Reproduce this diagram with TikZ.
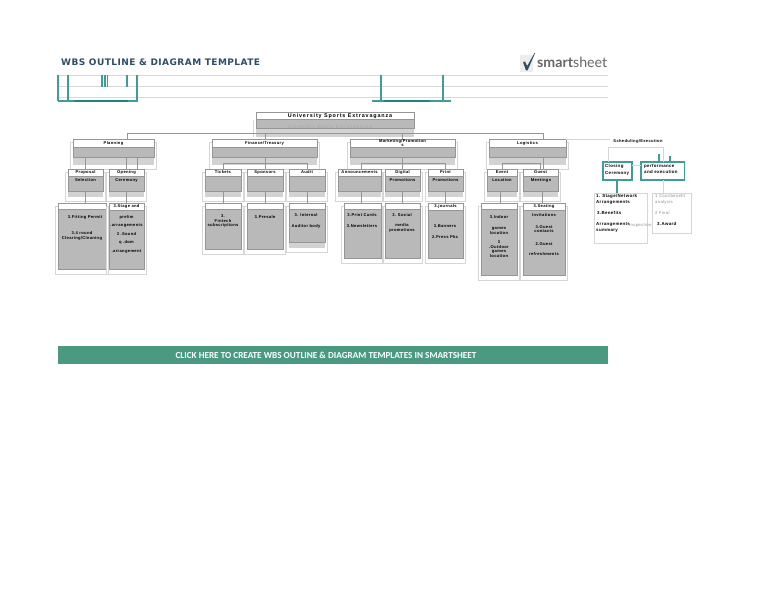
\documentclass[tikz,border=0pt]{standalone}
\usepackage{fontspec}
\setmainfont{Liberation Sans}
\newfontfamily\titlefont[LetterSpace=5]{DejaVu Sans}
\newfontfamily\bannerfont{Carlito}
\newfontfamily\logofont{Lato}
\newfontfamily\lblfont[LetterSpace=8]{Liberation Sans}
\newfontfamily\rootfont[LetterSpace=16]{Liberation Sans}
\definecolor{wbsgray}{HTML}{B9B9B9}
\definecolor{wbsedge}{HTML}{969696}
\definecolor{wbslight}{HTML}{D2D2D2}
\definecolor{wbsframe}{HTML}{D6D6D6}
\definecolor{wbsteal}{HTML}{3F9C98}
\definecolor{wbstealdk}{HTML}{1F8580}
\definecolor{wbsgreen}{HTML}{4A9A82}
\definecolor{wbsnavy}{HTML}{2E4E66}
\tikzset{
  x=1pt,y=-1pt,
  boxbase/.style={anchor=north west,inner sep=0pt,outer sep=0pt},
  frameb/.style={boxbase,draw=wbsframe,line width=.7pt},
  lightb/.style={boxbase,fill=wbslight},
  grayb/.style={boxbase,fill=wbsgray,draw=wbsedge,line width=.8pt},
  headb/.style={boxbase,fill=white,draw=wbsedge,line width=.7pt},
  lbl/.style={inner sep=0pt,align=center,font=\lblfont\bfseries\fontsize{4.1}{7}\selectfont,text=black},
  schedl/.style={inner sep=0pt,anchor=north west,align=left,font=\lblfont\bfseries\fontsize{4.4}{6.2}\selectfont,text=black},
  faint/.style={inner sep=0pt,align=left,anchor=north west,font=\lblfont\fontsize{4.2}{6.2}\selectfont,text=black!45},
  conn/.style={draw=wbsedge,line width=.9pt},
  lightconn/.style={draw=wbsframe,line width=.7pt},
  tealconn/.style={draw=wbsteal,line width=1.1pt},
  tealbox/.style={boxbase,draw=wbsteal,line width=1.1pt,fill=white},
  paleb/.style={boxbase,draw=wbsframe,line width=.5pt,fill=white},
  rule/.style={draw=black!15,line width=.5pt},
}
% name x1 y1 x2 y2(header bottom) y3(gray bottom) y4(light bottom) header
\newcommand{\wbsbox}[8]{%
  \node[lightb,minimum width={(#4-#2)*1pt},minimum height={(#7-#3)*1pt}] (#1L) at (#2,#3) {};
  \node[frameb,minimum width={(#4-#2+5)*1pt},minimum height={(#7-#3+1)*1pt}] (#1F) at (#2-2.5,#3+3) {};
  \node[grayb,minimum width={(#4-#2)*1pt},minimum height={(#6-#5)*1pt}] (#1G) at (#2,#5) {};
  \node[headb,minimum width={(#4-#2)*1pt},minimum height={(#5-#3)*1pt},lbl] (#1) at (#2,#3) {#8};
}
\newcommand{\lab}[4]{\node[lbl] (#1) at (#2,#3) {#4};}
% teal fragments as thin filled strips: x, y1, y2
\newcommand{\tealv}[3]{\fill[wbsteal] (#1-.6,#2) rectangle (#1+.6,#3);}
\begin{document}
\begin{tikzpicture}
\useasboundingbox (0,0) rectangle (768,594);
\fill[white] (0,0) rectangle (768,594);

% title and logo
\node[anchor=west,inner sep=0pt,text=wbsnavy,font=\titlefont\bfseries\fontsize{9}{10}\selectfont] (title) at (61,62) {WBS OUTLINE \& DIAGRAM TEMPLATE};
\node[boxbase,fill=black!7,minimum width=13pt,minimum height=17pt] (logobox) at (520,55) {};
\fill[wbsnavy] (523,62) -- (525,61.5) -- (527.2,66) -- (534.5,53) -- (535,53.3) -- (527.5,70.5) -- (526,70.5) -- cycle;
\node[anchor=west,inner sep=0pt,text=black!60,font=\logofont\fontsize{14.2}{16}\selectfont] (logo) at (537,62) {\textbf{smart}sheet};

% sheet rules
\coordinate (r1a) at (58,75); \coordinate (r1b) at (608,75);
\coordinate (r2a) at (58,86); \coordinate (r2b) at (608,86);
\coordinate (r3a) at (58,97.5); \coordinate (r3b) at (608,97.5);
\draw[rule] (r1a)--(r1b) (r2a)--(r2b) (r3a)--(r3b);
% teal fragments
\tealv{58}{75}{101}\tealv{68}{75}{101}\tealv{137}{75}{101}
\tealv{102}{75}{87}\tealv{105}{75}{87}\tealv{107.5}{75}{87}\tealv{127}{75}{87}
\tealv{381}{75}{101}\tealv{443}{75}{101}
\fill[wbsteal] (58,100.4) rectangle (137.6,101.6);
\fill[wbstealdk] (74,100.2) rectangle (128,101.8);
\fill[wbsteal] (372,100.4) rectangle (451,101.6);
\fill[wbstealdk] (384,100.2) rectangle (430,101.8);

% root
\node[lightb,minimum width=158pt,minimum height=25pt] (rootL) at (256,112) {};
\node[grayb,minimum width=158pt,minimum height=9pt] (rootG) at (256,119) {};
\node[headb,minimum width=158pt,minimum height=7.5pt] (root) at (256,112) {};
\node[inner sep=0pt,font=\rootfont\bfseries\fontsize{5.4}{7}\selectfont] (roottext) at (340,115.7) {University Sports Extravaganza};
\node[inner sep=0pt,text=black!35,font=\rootfont\fontsize{4.6}{7}\selectfont] (rootsub) at (330,127) {University Sports Extravaganza};

% level 1
\wbsbox{plan}{73}{139}{154}{147}{157}{165}{Planning}
\wbsbox{fin}{212}{139}{317}{147}{157}{165}{Finance/Treasury}
\wbsbox{mkt}{350}{139}{455}{147}{157}{165}{Marketing/Promotion\\[-3.2pt]s}
\wbsbox{log}{489}{139}{566}{147}{157}{165}{Logistics}

% level 2
\wbsbox{prop}{68}{169}{103}{176}{191}{197}{Proposal}
\wbsbox{open}{109}{169}{144}{176}{191}{197}{Opening}
\wbsbox{tick}{205}{169}{241}{176}{191}{197}{Tickets}
\wbsbox{spon}{247}{169}{283}{176}{191}{197}{Sponsors}
\wbsbox{audi}{289}{169}{325}{176}{191}{197}{Audit}
\wbsbox{ann}{338}{169}{381}{176}{191}{197}{Announcements}
\wbsbox{digi}{385}{169}{420}{176}{191}{197}{Digital}
\wbsbox{prnt}{428}{169}{463}{176}{191}{197}{Print}
\wbsbox{evnt}{487}{169}{517}{176}{191}{197}{Event}
\wbsbox{gues}{523}{169}{558}{176}{191}{197}{Guest}

% level 3
\wbsbox{propc}{58}{203}{106}{209}{269}{270}{}
\wbsbox{openc}{109}{203}{144}{210}{269}{270}{3.Stage and}
\wbsbox{tickc}{205}{203}{241}{209}{249}{250}{}
\wbsbox{sponc}{247}{203}{283}{209}{249}{250}{}
\wbsbox{audic}{289}{203}{325}{209}{242}{248}{}
\wbsbox{annc}{344}{203}{381}{209}{258}{259}{}
\wbsbox{digic}{385}{203}{420}{209}{258}{259}{}
\wbsbox{prntc}{428}{203}{463}{210}{258}{259}{3.journals}
\wbsbox{evntc}{481}{203}{517}{209}{275}{276}{}
\wbsbox{guesc}{523}{203}{565}{210}{275}{276}{3.Seating}

% level 2 subtitles
\lab{t01}{85.5}{180}{Selection}
\lab{t02}{126.5}{180}{Ceremony}
\lab{t03}{402.5}{180}{Promotions}
\lab{t04}{445.5}{180}{Promotions}
\lab{t05}{502}{180}{Location}
\lab{t06}{541}{180}{Meetings}

% level 3 text
\lab{a1}{85}{217}{3.Fitting Permit}
\lab{a2}{82}{236}{3.4 round\\[-2.5pt]Clearing/Cleaning}
\lab{b1}{126.5}{217}{prelim}
\lab{b2}{126.5}{226}{.arrangements}
\lab{b3}{126.5}{234}{3 .Sound}
\lab{b4}{126.5}{242}{q .dom}
\lab{b5}{126.5}{252}{.arrangement}
\lab{c1}{223}{221}{3.\\[-2.5pt]Fintech\\[-2.5pt]subscriptions}
\lab{c2}{265}{217}{3.Presale}
\lab{c3}{306}{215}{3. Internal}
\lab{c4}{306}{226}{Auditor body}
\lab{d1}{362}{215}{3.Print Cards}
\lab{d2}{362}{226}{3.Newsletters}
\lab{e1}{402}{215}{3. Social}
\lab{e2}{402}{228}{media\\[-2.5pt]promotions}
\lab{f1}{445}{226}{3.Banners}
\lab{f2}{445}{237}{2.Press Pks}
\lab{g1}{499}{217}{3.Indoor}
\lab{g2}{499}{231}{games\\[-2.5pt]location}
\lab{g3}{499}{249}{3\\[-2.5pt].Outdoor\\[-2.5pt]games\\[-2.5pt]location}
\lab{h1}{544}{215}{Invitations}
\lab{h2}{544}{229}{3.Guest\\[-2.5pt]contacts}
\lab{h3}{544}{244}{2.Guest}
\lab{h4}{544}{254}{refreshments}

% connectors root -> level 1
\draw[lightconn] (root.west) ++(-3,4) -- ++(0,17);
\path (rootL.south) ++(0,-4) coordinate (rootbus);
\draw[conn] (plan.north -| 127,0) -- (127,133) -- (543,133) -- (log.north -| 543,0);
\draw[conn] (fin.north -| 265,0) -- (265,133);
\draw[conn] (mkt.north) -- (mkt.north |- rootbus);

% connectors level 1 -> 2
\draw[conn] (planG.south -| prop.north) -- (prop.north);
\draw[conn] (planG.south -| open.north) -- (open.north);
\draw[conn] (137,157) -- (137,169);
\draw[conn] (finG.south -| spon.north) -- (spon.north);
\draw[conn] (tick.north) -- (tick.north |- 0,163) -- (audi.north |- 0,163) -- (audi.north);
\draw[conn] (mktG.south -| digi.north) -- (digi.north);
\draw[conn] (ann.north) ++(2,0) -- ++(0,-6) -- (prnt.north |- 0,163) -- (prnt.north);
\draw[conn] (logG.south -| 543,0) -- (543,169);
\draw[conn] (evnt.north) -- (evnt.north |- 0,163) -- (gues.north |- 0,163) -- (gues.north);

% connectors level 2 -> 3
\foreach \p/\c in {prop/propc,open/openc,tick/tickc,spon/sponc,audi/audic,digi/digic,prnt/prntc}{
  \draw[conn] (\p G.south) -- (\c.north -| \p G.south);
}
\draw[conn] (annG.south) ++(2,0) -- ++(0,12);
\draw[conn] (evntG.south) ++(-2,0) -- ++(0,12);
\draw[conn] (guesG.south) ++(2,0) -- ++(0,12);

% scheduling branch
\node[lbl] (sched) at (638,141) {Scheduling/Execution};
\node[tealbox,minimum width=29pt,minimum height=18pt] (close) at (603,162) {};
\node[tealbox,minimum width=43.5pt,minimum height=18pt] (perf) at (641,162) {};
\node[schedl] (closet) at (605,164.5) {Closing\\Ceremony};
\node[schedl] (perft) at (644,164) {performance\\and execution};
\node[paleb,minimum width=53pt,minimum height=50pt] (pale1) at (594,193) {};
\node[paleb,minimum width=39pt,minimum height=40pt] (pale2) at (652,193) {};
\coordinate (schedin) at (610,139);
\draw[lightconn] (log.east |- schedin) -- (schedin);
\draw[lightconn] (close.north -| 608,0) -- (608,147) -- (663,147) -- (perf.north -| 663,0);
\draw[lightconn] (close.east |- 0,165) -- (perf.west |- 0,165);
\draw[tealconn] (659,154) -- (perf.north -| 659,0);
\draw[tealconn] (670,156) -- (perf.north -| 670,0);
\draw[tealconn] (close.south -| 617,0) -- (pale1.north -| 617,0);
\draw[lightconn] (perf.south -| 663,0) -- (pale2.north -| 663,0);
\node[schedl] (s1) at (596,194) {1. Stage/Network\\Arrangements};
\node[schedl] (s2) at (597,211) {3.Benefits};
\node[schedl] (s3) at (596,222) {Arrangements\\summary};
\node[faint] (s4) at (629,223) {Inspection};
\node[faint] (s5) at (655,194) {1 Cost/benefit\\analysis};
\node[faint] (s6) at (655,211) {2 Final};
\node[schedl] (s7) at (657,222.5) {3.Award};

% banner
\node[boxbase,fill=wbsgreen,minimum width=550pt,minimum height=18pt] (banner) at (58,346) {};
\node[inner sep=0pt,text=white,font=\bannerfont\bfseries\fontsize{9.2}{10}\selectfont] (bannertext) at (326,355) {CLICK HERE TO CREATE WBS OUTLINE \& DIAGRAM TEMPLATES IN SMARTSHEET};
\end{tikzpicture}
\end{document}
